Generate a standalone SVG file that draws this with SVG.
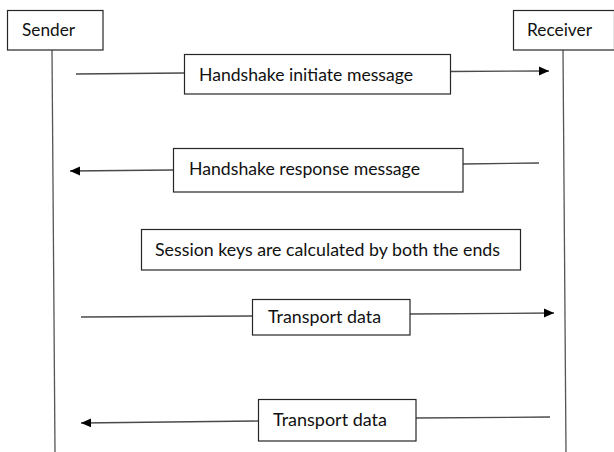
<svg xmlns="http://www.w3.org/2000/svg" width="614" height="452" viewBox="0 0 614 452">
<defs>
<style>
.box{fill:#fff;stroke:#262626;stroke-width:1.2}
.ln{fill:none;stroke:#4a4a4a;stroke-width:1.3}
.life{fill:none;stroke:#555;stroke-width:1.3}
text{font-family:Lato,"Open Sans","Liberation Sans",sans-serif;font-size:16.5px;fill:#111}
</style>
<marker id="ah" viewBox="0 0 10 10" refX="10" refY="5" markerWidth="10" markerHeight="10" markerUnits="userSpaceOnUse" orient="auto">
<path d="M0,0.5 L10,5 L0,9.5 z" fill="#000"/>
</marker>
</defs>
<rect width="614" height="452" fill="#fff"/>
<g id="connectors">
<line class="life" x1="52" y1="50" x2="55" y2="452"/>
<line class="life" x1="563" y1="50" x2="566" y2="452"/>
<line class="ln" x1="76" y1="74" x2="184" y2="73"/>
<line class="ln" x1="450" y1="71.5" x2="549" y2="71" marker-end="url(#ah)"/>
<line class="ln" x1="173" y1="170" x2="70" y2="171" marker-end="url(#ah)"/>
<line class="ln" x1="463" y1="164" x2="539" y2="163"/>
<line class="ln" x1="81" y1="317" x2="252" y2="316"/>
<line class="ln" x1="410" y1="314" x2="554" y2="313" marker-end="url(#ah)"/>
<line class="ln" x1="258" y1="421" x2="81" y2="423" marker-end="url(#ah)"/>
<line class="ln" x1="416" y1="418" x2="550" y2="417"/>
</g>
<g id="sender">
<rect class="box" x="7.5" y="10.5" width="95.5" height="39.5"/>
<text x="22" y="35.5" textLength="53" lengthAdjust="spacingAndGlyphs">Sender</text>
</g>
<g id="receiver">
<rect class="box" x="513.5" y="10.5" width="101" height="39.5"/>
<text x="527" y="35.5" textLength="65" lengthAdjust="spacingAndGlyphs">Receiver</text>
</g>
<g id="msg1">
<rect class="box" x="184.5" y="54.5" width="266" height="39.5"/>
<text x="199" y="80.5" textLength="214" lengthAdjust="spacingAndGlyphs">Handshake initiate message</text>
</g>
<g id="msg2">
<rect class="box" x="173.5" y="148.5" width="289.5" height="43.5"/>
<text x="189" y="175" textLength="231" lengthAdjust="spacingAndGlyphs">Handshake response message</text>
</g>
<g id="session">
<rect class="box" x="141.5" y="229.5" width="379" height="40.5"/>
<text x="155" y="256" textLength="345" lengthAdjust="spacingAndGlyphs">Session keys are calculated by both the ends</text>
</g>
<g id="transport1">
<rect class="box" x="252.5" y="299.5" width="157.5" height="35.5"/>
<text x="268" y="322.5" textLength="113" lengthAdjust="spacingAndGlyphs">Transport data</text>
</g>
<g id="transport2">
<rect class="box" x="258.5" y="399.5" width="157.5" height="41.5"/>
<text x="273" y="425.5" textLength="114" lengthAdjust="spacingAndGlyphs">Transport data</text>
</g>
</svg>
